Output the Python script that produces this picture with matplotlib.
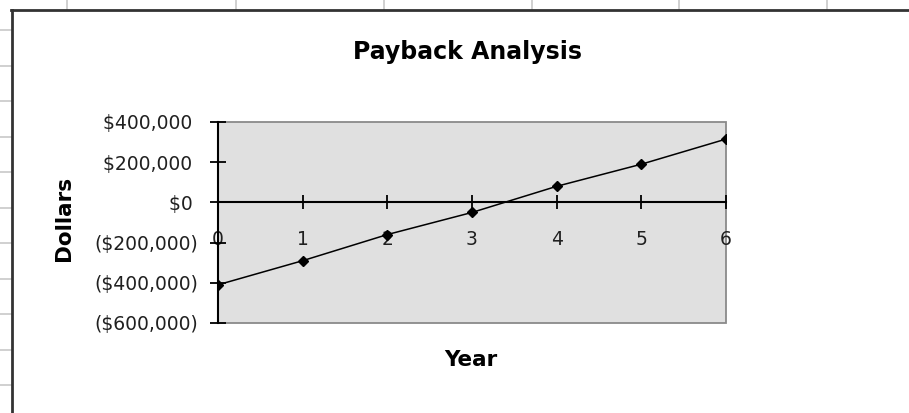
import matplotlib
matplotlib.use("Agg")
import matplotlib.pyplot as plt
from matplotlib.lines import Line2D
from matplotlib.patches import Rectangle
from matplotlib.ticker import FuncFormatter

# Payback data
years = [0, 1, 2, 3, 4, 5, 6]
cash = [-410000, -290000, -160000, -50000, 80000, 190000, 315000]
y_ticks = [400000, 200000, 0, -200000, -400000, -600000]

W, H = 909, 413
fig = plt.figure(figsize=(W / 100, H / 100), dpi=100)
fig.patch.set_facecolor("white")

def fx(px):
    return px / W

def fy(py):
    return 1 - py / H

# spreadsheet grid peeking out around the chart object
for cx in [67, 236, 384, 532, 679, 827]:
    fig.add_artist(Line2D([fx(cx), fx(cx)], [fy(0), fy(10)], color="#c8c8c8", lw=1.2))
for k in range(11):
    ry = 30 + 35.5 * k
    fig.add_artist(Line2D([fx(0), fx(12)], [fy(ry), fy(ry)], color="#c8c8c8", lw=1.2))

# chart object border (runs off right and bottom)
fig.add_artist(Line2D([fx(12), fx(12)], [fy(10), fy(H + 2)], color="#333333", lw=2))
fig.add_artist(Line2D([fx(11), fx(W + 2)], [fy(10), fy(10)], color="#333333", lw=2))

# plot area
left, right, top, bottom = 218, 726, 122, 323
ax = fig.add_axes([fx(left), fy(bottom), fx(right - left), (bottom - top) / H])
ax.set_facecolor("#e0e0e0")
ax.add_patch(Rectangle((0, 0), 1, 1, transform=ax.transAxes, fill=False,
                       edgecolor="#8a8a8a", lw=1.3, zorder=1, clip_on=False))

ax.plot(years, cash, color="black", lw=1.1, marker="D", markersize=5, zorder=3)

ax.set_xlim(0, 6)
ax.set_ylim(-600000, 400000)
ax.set_xticks(years)
ax.set_yticks(y_ticks)

def money(v, pos):
    if v < 0:
        return "(${:,.0f})".format(-v)
    return "${:,.0f} ".format(v)

ax.yaxis.set_major_formatter(FuncFormatter(money))

for s in ["top", "right"]:
    ax.spines[s].set_visible(False)
ax.spines["left"].set_color("black")
ax.spines["left"].set_linewidth(1.5)
ax.spines["bottom"].set_position(("data", 0))
ax.spines["bottom"].set_color("black")
ax.spines["bottom"].set_linewidth(1.5)
ax.spines["left"].set_zorder(4)
ax.spines["bottom"].set_zorder(2)

ax.tick_params(axis="x", direction="inout", length=10, width=1.3, pad=15,
               labelsize=13.5, colors="black")
ax.tick_params(axis="y", direction="inout", length=11, width=1.3, pad=8.5,
               labelsize=13.5, colors="black")
for t in ax.get_yticklabels() + ax.get_xticklabels():
    t.set_color("#202020")

fig.text(fx(467), fy(52), "Payback Analysis", ha="center", va="center",
         fontsize=17, fontweight="bold")
fig.text(fx(64), fy(218), "Dollars", ha="center", va="center", rotation=90,
         fontsize=15.5, fontweight="bold")
fig.text(fx(471), fy(360), "Year", ha="center", va="center",
         fontsize=15.5, fontweight="bold")

fig.savefig("out.png", dpi=100)
